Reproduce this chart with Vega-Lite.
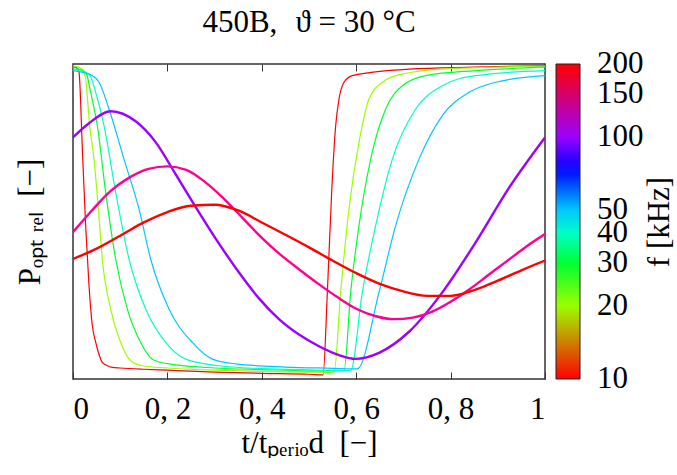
{
"$schema": "https://vega.github.io/schema/vega-lite/v6.json",
"width": 472, "height": 315,
"padding": {"left": 14, "top": 6, "right": 0, "bottom": 0},
"background": "white",
"config": {"font": "Liberation Serif", "view": {"stroke": "#333", "strokeWidth": 1.5}},
"title": {"text": "450B,\u2002\u200aϑ = 30 °C", "fontSize": 31, "fontWeight": "normal", "offset": 25, "anchor": "middle", "color": "black", "font": "Liberation Serif"},
"data": {"values": [
{"f":10,"t":0,"y":0.99},{"f":10,"t":0.0056,"y":0.99},{"f":10,"t":0.0127,"y":0.974},{"f":10,"t":0.0198,"y":0.73},{"f":10,"t":0.0268,"y":0.487},{"f":10,"t":0.0339,"y":0.296},{"f":10,"t":0.041,"y":0.169},{"f":10,"t":0.0475,"y":0.12},{"f":10,"t":0.0537,"y":0.085},{"f":10,"t":0.062,"y":0.053},{"f":10,"t":0.072,"y":0.043},{"f":10,"t":0.083,"y":0.037},{"f":10,"t":0.1,"y":0.035},{"f":10,"t":0.15,"y":0.031},{"f":10,"t":0.2,"y":0.028},{"f":10,"t":0.3,"y":0.022},{"f":10,"t":0.4,"y":0.018},{"f":10,"t":0.5,"y":0.015},{"f":10,"t":0.5297,"y":0.013},{"f":10,"t":0.5389,"y":0.275},{"f":10,"t":0.548,"y":0.593},{"f":10,"t":0.5565,"y":0.804},{"f":10,"t":0.5636,"y":0.889},{"f":10,"t":0.5742,"y":0.942},{"f":10,"t":0.5918,"y":0.963},{"f":10,"t":0.641,"y":0.975},{"f":10,"t":0.7119,"y":0.984},{"f":10,"t":0.85,"y":0.99},{"f":10,"t":1,"y":0.995},
{"f":20,"t":0,"y":0.995},{"f":20,"t":0.0198,"y":0.984},{"f":20,"t":0.0268,"y":0.952},{"f":20,"t":0.0353,"y":0.804},{"f":20,"t":0.0445,"y":0.698},{"f":20,"t":0.0537,"y":0.54},{"f":20,"t":0.0621,"y":0.381},{"f":20,"t":0.0798,"y":0.222},{"f":20,"t":0.101,"y":0.116},{"f":20,"t":0.1222,"y":0.058},{"f":20,"t":0.1469,"y":0.042},{"f":20,"t":0.2,"y":0.035},{"f":20,"t":0.3,"y":0.028},{"f":20,"t":0.4,"y":0.024},{"f":20,"t":0.5,"y":0.022},{"f":20,"t":0.553,"y":0.021},{"f":20,"t":0.5671,"y":0.275},{"f":20,"t":0.5847,"y":0.54},{"f":20,"t":0.6059,"y":0.751},{"f":20,"t":0.6271,"y":0.889},{"f":20,"t":0.6554,"y":0.942},{"f":20,"t":0.6977,"y":0.968},{"f":20,"t":0.7825,"y":0.984},{"f":20,"t":1,"y":0.993},
{"f":30,"t":0,"y":0.989},{"f":30,"t":0.0268,"y":0.974},{"f":30,"t":0.0374,"y":0.91},{"f":30,"t":0.0516,"y":0.804},{"f":30,"t":0.0692,"y":0.593},{"f":30,"t":0.0904,"y":0.381},{"f":30,"t":0.1151,"y":0.222},{"f":30,"t":0.1434,"y":0.116},{"f":30,"t":0.1681,"y":0.063},{"f":30,"t":0.2034,"y":0.048},{"f":30,"t":0.3,"y":0.035},{"f":30,"t":0.4,"y":0.03},{"f":30,"t":0.5,"y":0.026},{"f":30,"t":0.5741,"y":0.026},{"f":30,"t":0.5883,"y":0.275},{"f":30,"t":0.6059,"y":0.487},{"f":30,"t":0.6307,"y":0.698},{"f":30,"t":0.6624,"y":0.857},{"f":30,"t":0.6977,"y":0.931},{"f":30,"t":0.7472,"y":0.963},{"f":30,"t":0.8531,"y":0.979},{"f":30,"t":1,"y":0.99},
{"f":40,"t":0,"y":0.984},{"f":40,"t":0.0339,"y":0.968},{"f":40,"t":0.048,"y":0.91},{"f":40,"t":0.0657,"y":0.804},{"f":40,"t":0.0904,"y":0.593},{"f":40,"t":0.1186,"y":0.381},{"f":40,"t":0.154,"y":0.222},{"f":40,"t":0.1963,"y":0.116},{"f":40,"t":0.2387,"y":0.063},{"f":40,"t":0.3093,"y":0.042},{"f":40,"t":0.4,"y":0.033},{"f":40,"t":0.5,"y":0.029},{"f":40,"t":0.5883,"y":0.027},{"f":40,"t":0.613,"y":0.275},{"f":40,"t":0.6412,"y":0.487},{"f":40,"t":0.6766,"y":0.698},{"f":40,"t":0.726,"y":0.857},{"f":40,"t":0.7825,"y":0.931},{"f":40,"t":0.8531,"y":0.963},{"f":40,"t":1,"y":0.979},
{"f":50,"t":0,"y":0.979},{"f":50,"t":0.041,"y":0.963},{"f":50,"t":0.0551,"y":0.942},{"f":50,"t":0.0763,"y":0.857},{"f":50,"t":0.108,"y":0.698},{"f":50,"t":0.1398,"y":0.54},{"f":50,"t":0.1645,"y":0.381},{"f":50,"t":0.2034,"y":0.222},{"f":50,"t":0.2528,"y":0.116},{"f":50,"t":0.2952,"y":0.063},{"f":50,"t":0.3446,"y":0.048},{"f":50,"t":0.45,"y":0.038},{"f":50,"t":0.55,"y":0.034},{"f":50,"t":0.6024,"y":0.032},{"f":50,"t":0.6483,"y":0.275},{"f":50,"t":0.6836,"y":0.487},{"f":50,"t":0.7331,"y":0.698},{"f":50,"t":0.7825,"y":0.836},{"f":50,"t":0.839,"y":0.91},{"f":50,"t":0.8955,"y":0.942},{"f":50,"t":1,"y":0.963},
{"f":100,"t":0,"y":0.767},{"f":100,"t":0.0339,"y":0.812},{"f":100,"t":0.0798,"y":0.85},{"f":100,"t":0.1328,"y":0.818},{"f":100,"t":0.175,"y":0.752},{"f":100,"t":0.2175,"y":0.65},{"f":100,"t":0.26,"y":0.546},{"f":100,"t":0.3093,"y":0.43},{"f":100,"t":0.3517,"y":0.338},{"f":100,"t":0.394,"y":0.256},{"f":100,"t":0.4364,"y":0.19},{"f":100,"t":0.4788,"y":0.141},{"f":100,"t":0.521,"y":0.104},{"f":100,"t":0.5636,"y":0.076},{"f":100,"t":0.5989,"y":0.064},{"f":100,"t":0.6483,"y":0.083},{"f":100,"t":0.7119,"y":0.15},{"f":100,"t":0.7825,"y":0.275},{"f":100,"t":0.8531,"y":0.434},{"f":100,"t":0.9237,"y":0.607},{"f":100,"t":1,"y":0.767},
{"f":150,"t":0,"y":0.466},{"f":150,"t":0.04,"y":0.535},{"f":150,"t":0.08,"y":0.597},{"f":150,"t":0.12,"y":0.64},{"f":150,"t":0.16,"y":0.667},{"f":150,"t":0.2,"y":0.675},{"f":150,"t":0.24,"y":0.664},{"f":150,"t":0.28,"y":0.625},{"f":150,"t":0.32,"y":0.572},{"f":150,"t":0.36,"y":0.51},{"f":150,"t":0.4,"y":0.448},{"f":150,"t":0.44,"y":0.394},{"f":150,"t":0.48,"y":0.347},{"f":150,"t":0.52,"y":0.302},{"f":150,"t":0.56,"y":0.26},{"f":150,"t":0.6,"y":0.223},{"f":150,"t":0.64,"y":0.2},{"f":150,"t":0.68,"y":0.19},{"f":150,"t":0.72,"y":0.195},{"f":150,"t":0.76,"y":0.213},{"f":150,"t":0.8,"y":0.245},{"f":150,"t":0.84,"y":0.285},{"f":150,"t":0.88,"y":0.33},{"f":150,"t":0.92,"y":0.375},{"f":150,"t":0.96,"y":0.42},{"f":150,"t":1,"y":0.46},
{"f":200,"t":0,"y":0.381},{"f":200,"t":0.05,"y":0.414},{"f":200,"t":0.1,"y":0.455},{"f":200,"t":0.15,"y":0.497},{"f":200,"t":0.2,"y":0.53},{"f":200,"t":0.25,"y":0.55},{"f":200,"t":0.3,"y":0.553},{"f":200,"t":0.35,"y":0.535},{"f":200,"t":0.4,"y":0.497},{"f":200,"t":0.45,"y":0.458},{"f":200,"t":0.5,"y":0.418},{"f":200,"t":0.55,"y":0.376},{"f":200,"t":0.6,"y":0.336},{"f":200,"t":0.65,"y":0.302},{"f":200,"t":0.7,"y":0.278},{"f":200,"t":0.75,"y":0.264},{"f":200,"t":0.8,"y":0.264},{"f":200,"t":0.85,"y":0.282},{"f":200,"t":0.9,"y":0.312},{"f":200,"t":0.95,"y":0.345},{"f":200,"t":1,"y":0.376}
]},
"layer": [
{"mark": {"type": "line", "clip": true, "interpolate": "monotone"},
 "encoding": {
  "x": {"field": "t", "type": "quantitative", "scale": {"domain": [0, 1], "nice": false},
        "axis": {"orient": "bottom", "values": [0, 0.2, 0.4, 0.6, 0.8, 1], "labelExpr": "replace(format(datum.value, '.1~f'), '.', ', ')", "offset": -7, "tickSize": 7, "tickColor": "#333", "tickWidth": 1, "domain": false, "grid": false, "labelFontSize": 31, "labelColor": "black", "labelPadding": 15, "labelFont": "Liberation Serif", "title": "t/tₚₑᵣᵢₒd\u2002[−]", "titleFontSize": 31, "titleFontWeight": "normal", "titleColor": "black", "titlePadding": 4, "titleFont": "Liberation Serif"}},
  "y": {"field": "y", "type": "quantitative", "scale": {"domain": [0, 1], "nice": false, "zero": false},
        "axis": {"labels": false, "ticks": false, "domain": false, "grid": false, "title": "Pₒₚₜ ᵣₑₗ\u2002[−]", "titleFontSize": 31, "titleFontWeight": "normal", "titleColor": "black", "titlePadding": 27, "titleFont": "Liberation Serif"}},
  "color": {"field": "f", "type": "quantitative",
        "scale": {"type": "log", "domain": [10, 16.475, 27.14, 44.72, 73.68, 121.4, 200], "range": ["#ff0000", "#ffff00", "#00ff00", "#00ffff", "#0000ff", "#ff00ff", "#ff0000"], "interpolate": "rgb"},
        "legend": {"type": "gradient", "title": "f [kHz]", "values": [10, 20, 30, 40, 50, 100, 150, 200], "format": "d", "gradientLength": 315, "gradientThickness": 24, "gradientStrokeColor": "#222", "gradientStrokeWidth": 1, "labelFontSize": 31, "labelColor": "black", "labelFont": "Liberation Serif", "labelOffset": 17, "labelOverlap": false, "labelBaseline": "middle", "titleOrient": "right", "titlePadding": 1, "titleBaseline": "top", "titleFontSize": 31, "titleFontWeight": "normal", "titleColor": "black", "titleFont": "Liberation Serif", "offset": 11, "padding": 0,
                   "encoding": {"labels": {"baseline": {"value": "middle"}}, "title": {"angle": {"value": 270}, "baseline": {"value": "top"}}}}},
  "detail": {"field": "f", "type": "nominal"},
  "strokeWidth": {"field": "f", "type": "quantitative", "scale": {"type": "linear", "domain": [50, 100], "range": [1.2, 2.4], "clamp": true}, "legend": null}
 }},
{"mark": {"type": "line", "opacity": 0},
 "encoding": {
  "x": {"field": "t", "type": "quantitative", "axis": {"orient": "top", "values": [0.2, 0.4, 0.6, 0.8], "labels": false, "offset": -7, "tickSize": 7, "tickColor": "#333", "tickWidth": 1, "domain": false, "grid": false, "title": null}},
  "detail": {"field": "f", "type": "nominal"}
 }}
],
"resolve": {"axis": {"x": "independent"}}
}
